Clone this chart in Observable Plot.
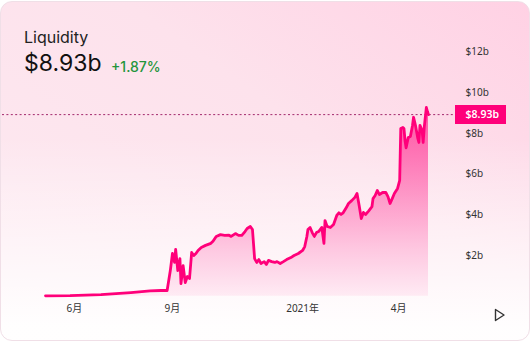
<!DOCTYPE html>
<html><head><meta charset="utf-8">
<script src="https://cdn.jsdelivr.net/npm/d3@7"></script>
<script src="https://cdn.jsdelivr.net/npm/@observablehq/plot@0.6"></script>
<style>
html,body{margin:0;padding:0;background:#ffffff;width:531px;height:344px;overflow:hidden;}
#card{position:absolute;left:0;top:1px;width:530px;height:340px;box-sizing:border-box;border-radius:12px;
  border:1px solid #f0dfe7;
  background:
    linear-gradient(180deg, rgba(255,255,255,0) 40%, rgba(255,255,255,0.95) 96%),
    linear-gradient(215deg, #ffd1e4 0%, #fde2ec 40%, #fdeaf1 100%);}
#chart{position:absolute;left:0;top:0;}
.hdr{position:absolute;font-family:Inter,"Noto Sans",sans-serif;line-height:1;white-space:nowrap;}
#t1{left:24px;top:29px;font-size:16px;color:#222;}
#t2{left:24px;top:52px;font-size:23px;color:#111;}
#t3{left:111px;top:60px;font-size:14px;font-weight:500;color:#23953b;}
#play{position:absolute;left:0;top:0;}
</style></head>
<body>
<div id="card"></div>
<div id="chart"></div>
<div class="hdr" id="t1">Liquidity</div>
<div class="hdr" id="t2">$8.93b</div>
<div class="hdr" id="t3">+1.87%</div>
<svg id="play" width="531" height="344" style="pointer-events:none"><polygon points="495.5,309.5 504,315 495.5,320.5" fill="none" stroke="#333" stroke-width="1.4" stroke-linejoin="round"/></svg>
<script>
const dates = ["2020-05-05","2020-05-28","2020-06-26","2020-07-24","2020-08-11","2020-08-21","2020-08-27","2020-08-30","2020-09-01","2020-09-03","2020-09-04","2020-09-06","2020-09-08","2020-09-09","2020-09-11","2020-09-13","2020-09-15","2020-09-17","2020-09-19","2020-09-21","2020-09-23","2020-09-25","2020-09-28","2020-10-02","2020-10-07","2020-10-09","2020-10-12","2020-10-16","2020-10-20","2020-10-24","2020-10-26","2020-10-30","2020-11-02","2020-11-05","2020-11-08","2020-11-10","2020-11-13","2020-11-15","2020-11-17","2020-11-19","2020-11-21","2020-11-23","2020-11-26","2020-11-28","2020-11-30","2020-12-03","2020-12-06","2020-12-08","2020-12-11","2020-12-14","2020-12-17","2020-12-21","2020-12-24","2020-12-28","2021-01-01","2021-01-03","2021-01-05","2021-01-06","2021-01-08","2021-01-10","2021-01-12","2021-01-14","2021-01-16","2021-01-19","2021-01-21","2021-01-22","2021-01-24","2021-01-27","2021-01-30","2021-02-02","2021-02-04","2021-02-06","2021-02-08","2021-02-11","2021-02-13","2021-02-16","2021-02-19","2021-02-21","2021-02-23","2021-02-25","2021-02-27","2021-03-01","2021-03-04","2021-03-07","2021-03-08","2021-03-10","2021-03-12","2021-03-14","2021-03-17","2021-03-20","2021-03-22","2021-03-24","2021-03-26","2021-03-28","2021-03-31","2021-04-02","2021-04-03","2021-04-05","2021-04-06","2021-04-07","2021-04-08","2021-04-10","2021-04-12","2021-04-14","2021-04-15","2021-04-17","2021-04-19","2021-04-20","2021-04-21","2021-04-23","2021-04-24","2021-04-25","2021-04-27","2021-04-28","2021-04-29"];
const liquidity = [0.02,0.03,0.08,0.18,0.26,0.28,0.28,1.26,2.1,1.66,2.3,1.26,1.85,0.62,1.5,0.67,0.97,0.87,2.15,2.0,2.1,2.25,2.4,2.5,2.6,2.7,2.94,3.03,2.99,3.0,2.94,3.08,2.99,2.99,3.18,3.33,3.43,3.28,1.85,1.66,1.8,1.61,1.7,1.56,1.76,1.7,1.66,1.7,1.61,1.7,1.8,1.9,2.0,2.1,2.25,2.44,2.94,3.28,3.38,3.13,2.94,3.13,3.18,3.38,2.6,3.72,3.43,3.38,3.53,3.97,4.1,4.02,4.1,4.36,4.56,4.7,4.86,5.05,4.46,3.82,4.12,4.02,4.2,4.4,4.8,4.95,5.2,5.0,5.1,5.1,4.9,4.56,4.8,5.05,5.3,5.7,8.25,8.3,8.25,7.66,7.3,7.8,7.85,8.4,8.8,8.35,7.76,7.56,8.4,8.15,7.56,8.3,9.28,9.08,8.93];
const yTicks = [2, 4, 6, 8, 10, 12];
const xTickDates = ["2020-06-01", "2020-09-01", "2021-01-01", "2021-04-01"];
const xTickLabels = ["6月", "9月", "2021年", "4月"];
const latestValue = 8.93;
const latestLabel = "$8.93b";

const data = dates.map((d, i) => ({date: new Date(d), value: liquidity[i]}));
const xTicks = xTickDates.map(d => new Date(d));
const xLabelMap = new Map(xTicks.map((d, i) => [+d, xTickLabels[i]]));

const defs = () => {
  const s = d3.create("svg:defs");
  const g = s.append("linearGradient").attr("id", "liqGrad")
    .attr("x1", 0).attr("y1", 0).attr("x2", 0).attr("y2", 1);
  [[0, 0.62], [0.3, 0.45], [0.75, 0.18], [1, 0.06]].forEach(([o, a]) =>
    g.append("stop").attr("offset", o).attr("stop-color", "#ff007a").attr("stop-opacity", a));
  return s.node();
};

const chart = Plot.plot({
  width: 531,
  height: 344,
  marginLeft: 45,
  marginRight: 103,
  marginTop: 51.7,
  marginBottom: 48.3,
  style: {background: "transparent", fontFamily: "'Noto Sans','Noto Sans CJK SC',sans-serif", fontSize: "10px", color: "#333", overflow: "visible"},
  x: {type: "utc", domain: [data[0].date, data[data.length - 1].date], label: null},
  y: {domain: [0, 12], label: null},
  marks: [
    defs,
    Plot.areaY(data, {x: "date", y: "value", fill: "url(#liqGrad)"}),
    Plot.ruleY([latestValue], {stroke: "#a2286c", strokeWidth: 1, strokeDasharray: "2,2.4", insetLeft: -43, insetRight: -27}),
    Plot.lineY(data, {x: "date", y: "value", stroke: "#ff007a", strokeWidth: 2.8, strokeLinejoin: "round"}),
    Plot.ruleY([latestValue], {stroke: "#ff007a", strokeWidth: 19, insetLeft: 410, insetRight: -78}),
    Plot.text([latestValue], {y: d => d, frameAnchor: "right", text: () => latestLabel, dx: 37, textAnchor: "start", fill: "#fff", fontWeight: 600, fontSize: 10.5}),
    Plot.axisY(yTicks, {anchor: "right", label: null, tickSize: 0, tickPadding: 0, dx: 37, textAnchor: "start", tickFormat: d => `$${d}b`, fill: "#333"}),
    Plot.axisX(xTicks, {anchor: "bottom", label: null, tickSize: 0, tickPadding: 9, tickFormat: d => xLabelMap.get(+d), fill: "#333"})
  ]
});
document.getElementById("chart").appendChild(chart);
</script>
</body></html>
